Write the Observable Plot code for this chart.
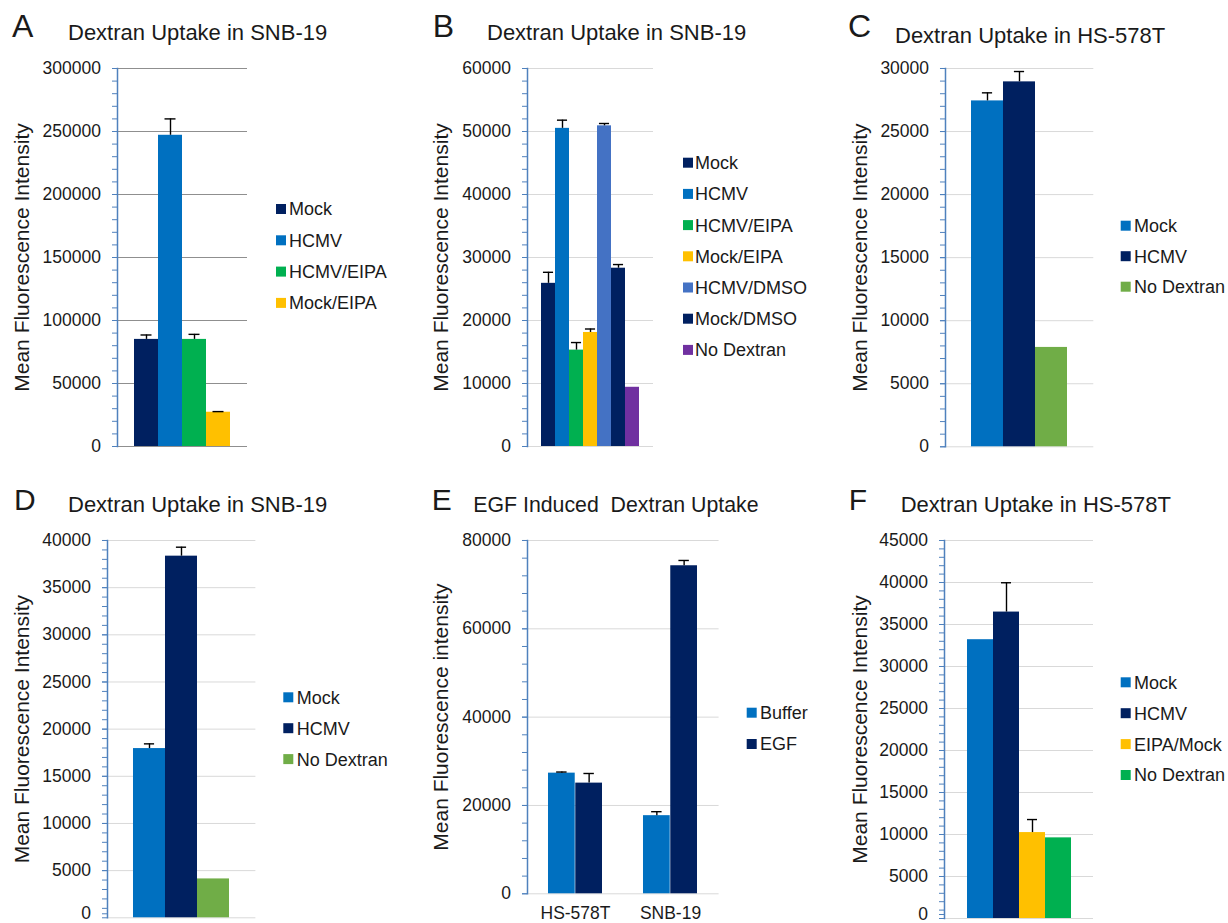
<!DOCTYPE html>
<html>
<head>
<meta charset="utf-8">
<script src="https://cdn.jsdelivr.net/npm/d3@7"></script>
<script src="https://cdn.jsdelivr.net/npm/@observablehq/plot@0.6"></script>
<style>
  body { margin: 0; background: #fff; }
  #root { position: relative; width: 1228px; height: 923px; overflow: hidden; background: #fff;
          font-family: "Liberation Sans", Arial, sans-serif; color: #1a1a1a; }
  #root svg.panel { position: absolute; overflow: visible; }
  #overlay { position: absolute; left: 0; top: 0; pointer-events: none; }
</style>
</head>
<body>
<div id="root"></div>
<script>
// ---------------- data ----------------
const yLabel = "Mean Fluorescence Intensity";
const yLabelE = "Mean Fluorescence intensity";

// Panel A
const titleA = "Dextran Uptake in SNB-19";
const seriesA = ["Mock", "HCMV", "HCMV/EIPA", "Mock/EIPA"];
const valuesA = [85000, 247000, 85000, 27200];
const errorsA = [3500, 13000, 4000, 500];
const ticksA = [0, 50000, 100000, 150000, 200000, 250000, 300000];

// Panel B
const titleB = "Dextran Uptake in SNB-19";
const seriesB = ["Mock", "HCMV", "HCMV/EIPA", "Mock/EIPA", "HCMV/DMSO", "Mock/DMSO", "No Dextran"];
const valuesB = [25900, 50500, 15300, 18100, 50900, 28300, 9400];
const errorsB = [1750, 1300, 1200, 550, 370, 580, null];
const ticksB = [0, 10000, 20000, 30000, 40000, 50000, 60000];

// Panel C
const titleC = "Dextran Uptake in HS-578T";
const seriesC = ["Mock", "HCMV", "No Dextran"];
const valuesC = [27430, 28940, 7880];
const errorsC = [640, 820, null];
const ticksC = [0, 5000, 10000, 15000, 20000, 25000, 30000];

// Panel D
const titleD = "Dextran Uptake in SNB-19";
const seriesD = ["Mock", "HCMV", "No Dextran"];
const valuesD = [17940, 38340, 4120];
const errorsD = [500, 950, null];
const ticksD = [0, 5000, 10000, 15000, 20000, 25000, 30000, 35000, 40000];

// Panel E
const titleE = "EGF Induced  Dextran Uptake";
const groupsE = ["HS-578T", "SNB-19"];
const seriesE = ["Buffer", "EGF"];
const bufferE = [27320, 17690];
const bufferErrE = [250, 900];
const egfE = [25060, 74280];
const egfErrE = [2180, 1200];
const ticksE = [0, 20000, 40000, 60000, 80000];

// Panel F
const titleF = "Dextran Uptake in HS-578T";
const seriesF = ["Mock", "HCMV", "EIPA/Mock", "No Dextran"];
const valuesF = [33190, 36480, 10230, 9600];
const errorsF = [null, 3490, 1550, null];
const ticksF = [0, 5000, 10000, 15000, 20000, 25000, 30000, 35000, 40000, 45000];

// ---------------- styles ----------------
const NAVY = "#002060", BLUE = "#0070C0", GREEN = "#00B050", GOLD = "#FFC000",
      DMSO = "#4472C4", PURPLE = "#7030A0", LGREEN = "#70AD47";
const colorsA = [NAVY, BLUE, GREEN, GOLD];
const colorsB = [NAVY, BLUE, GREEN, GOLD, DMSO, NAVY, PURPLE];
const colorsC = [BLUE, NAVY, LGREEN];
const colorsD = [BLUE, NAVY, LGREEN];
const colorsE = [BLUE, NAVY];
const colorsF = [BLUE, NAVY, GOLD, GREEN];
const AXIS = "#4F81BD";
const TEXT = "#1a1a1a";
const FONT = "'Liberation Sans', Arial, sans-serif";
const CAP = 11;

const root = document.getElementById("root");

function commonMarks(cfg) {
  const minor = d3.range(0, cfg.ticks[cfg.ticks.length - 1] + 1, cfg.minor);
  const tickText = {tickSize: 5, tickPadding: 11.5, stroke: AXIS, fill: TEXT, fontSize: 17.5,
    tickFormat: d3.format("d"), label: null};
  const lift = cfg.zeroLift || 0;
  return {
    grid: Plot.gridY(cfg.ticks, {stroke: cfg.grid, strokeOpacity: 1, strokeWidth: 1}),
    axes: [
      Plot.axisY(minor, {tickSize: 5, stroke: AXIS, strokeWidth: 1, tickFormat: () => "", label: null}),
      Plot.axisY(cfg.ticks.filter(t => !(lift && t === 0)), tickText),
      ...(lift ? [Plot.axisY([0], {...tickText, tickSize: 5, dy: -lift})] : []),
      Plot.axisY([], {tickSize: 0, label: cfg.ylabel, labelAnchor: "center", labelArrow: "none",
        labelOffset: cfg.axisX - cfg.labelLeft, fontSize: 21, fill: TEXT}),
      Plot.frame({anchor: "left", stroke: AXIS, strokeWidth: 1.5})
    ]
  };
}

function place(svg, cfg, ml, mt) {
  svg.classList.add("panel");
  svg.style.left = (cfg.axisX - ml) + "px";
  svg.style.top = (cfg.topY - mt) + "px";
  root.appendChild(svg);
}

function simplePanel(cfg) {
  const ml = 112, mt = 15, mb = 30, mr = 2;
  const fw = cfg.gridRight - cfg.axisX;
  const fh = cfg.zeroY - cfg.topY;
  const data = cfg.series.map((s, i) => ({s, v: cfg.values[i], e: cfg.errors[i]}));
  const err = data.filter(d => d.e != null);
  const bw = fw / (cfg.series.length + 2 * cfg.po);
  const capInset = Math.max(0, (bw - CAP) / 2);
  const m = commonMarks(cfg);
  const svg = Plot.plot({
    width: ml + fw + mr, height: mt + fh + mb,
    marginLeft: ml, marginRight: mr, marginTop: mt, marginBottom: mb,
    style: {fontFamily: FONT, color: TEXT, background: "transparent", overflow: "visible"},
    x: {domain: cfg.series, paddingInner: 0, paddingOuter: cfg.po, axis: null},
    y: {domain: [0, cfg.ticks[cfg.ticks.length - 1]]},
    color: {domain: cfg.series, range: cfg.colors},
    marks: [
      m.grid,
      Plot.barY(data, {x: "s", y: "v", fill: "s"}),
      Plot.ruleX(err, {x: "s", y1: "v", y2: d => d.v + d.e, stroke: "#000", strokeWidth: 1.4}),
      Plot.tickY(err, {x: "s", y: d => d.v + d.e, stroke: "#000", strokeWidth: 1.4,
        insetLeft: capInset, insetRight: capInset}),
      ...m.axes
    ]
  });
  place(svg, cfg, ml, mt);
}

function groupedPanel(cfg) {
  const ml = 112, mt = 15, mb = 30, mr = 2;
  const fw = cfg.gridRight - cfg.axisX;
  const fh = cfg.zeroY - cfg.topY;
  const pi = 0.43, po = 0.216;
  const step = fw / (cfg.groups.length - pi + 2 * po);
  const half = step * (1 - pi) / 2;
  const c = half / 2 - CAP / 2;
  const sets = cfg.seriesVals.map((vals, k) => cfg.groups.map((g, i) =>
    ({g, s: cfg.series[k], v: vals[i], e: cfg.seriesErrs[k][i]})));
  const m = commonMarks(cfg);
  const svg = Plot.plot({
    width: ml + fw + mr, height: mt + fh + mb,
    marginLeft: ml, marginRight: mr, marginTop: mt, marginBottom: mb,
    style: {fontFamily: FONT, color: TEXT, background: "transparent", overflow: "visible"},
    x: {domain: cfg.groups, paddingInner: pi, paddingOuter: po},
    y: {domain: [0, cfg.ticks[cfg.ticks.length - 1]]},
    color: {domain: cfg.series, range: cfg.colors},
    marks: [
      m.grid,
      Plot.barY(sets[0], {x: "g", y: "v", fill: "s", insetRight: half}),
      Plot.barY(sets[1], {x: "g", y: "v", fill: "s", insetLeft: half}),
      Plot.ruleX(sets[0], {x: "g", y1: "v", y2: d => d.v + d.e, dx: -half / 2, stroke: "#000", strokeWidth: 1.4}),
      Plot.ruleX(sets[1], {x: "g", y1: "v", y2: d => d.v + d.e, dx: half / 2, stroke: "#000", strokeWidth: 1.4}),
      Plot.tickY(sets[0], {x: "g", y: d => d.v + d.e, stroke: "#000", strokeWidth: 1.4,
        insetLeft: c, insetRight: half + c}),
      Plot.tickY(sets[1], {x: "g", y: d => d.v + d.e, stroke: "#000", strokeWidth: 1.4,
        insetLeft: half + c, insetRight: c}),
      Plot.axisX({tickSize: 0, tickPadding: 13, fontSize: 17.5, fill: TEXT, label: null}),
      ...m.axes
    ]
  });
  place(svg, cfg, ml, mt);
}

const LIGHTGRID = "#d9d9d9";
simplePanel({series: seriesA, values: valuesA, errors: errorsA, colors: colorsA, ticks: ticksA, minor: 10000,
  axisX: 117, topY: 68, zeroY: 446, gridRight: 247, po: 0.708, labelLeft: 13.3, grid: "#8f8f8f", ylabel: yLabel});
simplePanel({series: seriesB, values: valuesB, errors: errorsB, colors: colorsB, ticks: ticksB, minor: 2000,
  axisX: 527, topY: 68, zeroY: 446, gridRight: 653, po: 0.73, labelLeft: 432.7, grid: LIGHTGRID, ylabel: yLabel});
simplePanel({series: seriesC, values: valuesC, errors: errorsC, colors: colorsC, ticks: ticksC, minor: 1000,
  axisX: 944.7, topY: 67.7, zeroY: 446, gridRight: 1093, po: 0.76, labelLeft: 851.3, grid: LIGHTGRID, ylabel: yLabel});
simplePanel({series: seriesD, values: valuesD, errors: errorsD, colors: colorsD, ticks: ticksD, minor: 1000,
  axisX: 107.3, topY: 540, zeroY: 917.3, gridRight: 255.7, po: 0.76, labelLeft: 14, grid: LIGHTGRID, ylabel: yLabel,
  zeroLift: 4});
groupedPanel({groups: groupsE, series: seriesE, seriesVals: [bufferE, egfE], seriesErrs: [bufferErrE, egfErrE],
  colors: colorsE, ticks: ticksE, minor: 4000,
  axisX: 526.7, topY: 540, zeroY: 893.3, gridRight: 718.3, labelLeft: 432.7, grid: LIGHTGRID, ylabel: yLabelE});
simplePanel({series: seriesF, values: valuesF, errors: errorsF, colors: colorsF, ticks: ticksF, minor: 1000,
  axisX: 944, topY: 540, zeroY: 918, gridRight: 1093, po: 0.76, labelLeft: 851.3, grid: LIGHTGRID, ylabel: yLabel,
  zeroLift: 4});

// ---------------- overlay: panel letters, titles, legends ----------------
const overlay = d3.select(root).append("svg").attr("id", "overlay")
  .attr("width", 1228).attr("height", 923)
  .style("font-family", FONT);

const letters = [
  {t: "A", x: 12, y: 37.3, s: 32}, {t: "B", x: 432.7, y: 37.3, s: 32}, {t: "C", x: 848, y: 36.7, s: 32},
  {t: "D", x: 14, y: 510, s: 30}, {t: "E", x: 431.7, y: 510, s: 30}, {t: "F", x: 848.7, y: 510, s: 30}
];
overlay.selectAll("text.letter").data(letters).join("text").attr("class", "letter")
  .attr("x", d => d.x).attr("y", d => d.y).attr("font-size", d => d.s).attr("fill", TEXT).text(d => d.t);

const titles = [
  {t: titleA, x: 68, y: 40, s: 22}, {t: titleB, x: 487, y: 40, s: 22}, {t: titleC, x: 895, y: 43, s: 22},
  {t: titleD, x: 68, y: 511.7, s: 22}, {t: titleE, x: 473.3, y: 511.7, s: 21.3}, {t: titleF, x: 900.7, y: 511.7, s: 22}
];
overlay.selectAll("text.title").data(titles).join("text").attr("class", "title")
  .attr("x", d => d.x).attr("y", d => d.y).attr("font-size", d => d.s).attr("fill", TEXT)
  .style("white-space", "pre").text(d => d.t);

const legends = [
  {names: seriesA, colors: colorsA, sx: 276, tx: 289, y0: 209, dy: 31.3},
  {names: seriesB, colors: colorsB, sx: 683, tx: 695, y0: 162.7, dy: 31.2},
  {names: seriesC, colors: colorsC, sx: 1120.7, tx: 1134, y0: 225.7, dy: 30.5},
  {names: seriesD, colors: colorsD, sx: 283.3, tx: 296.7, y0: 697.3, dy: 30.9},
  {names: seriesE, colors: colorsE, sx: 746.7, tx: 760, y0: 712.7, dy: 31.3},
  {names: seriesF, colors: colorsF, sx: 1120.7, tx: 1134, y0: 682.3, dy: 30.9}
];
legends.forEach(L => {
  const g = overlay.append("g");
  L.names.forEach((n, i) => {
    const cy = L.y0 + i * L.dy;
    g.append("rect").attr("x", L.sx).attr("y", cy - 5).attr("width", 10).attr("height", 10).attr("fill", L.colors[i]);
    g.append("text").attr("x", L.tx).attr("y", cy + 6.4).attr("font-size", 18).attr("fill", TEXT).text(n);
  });
});
</script>
</body>
</html>
